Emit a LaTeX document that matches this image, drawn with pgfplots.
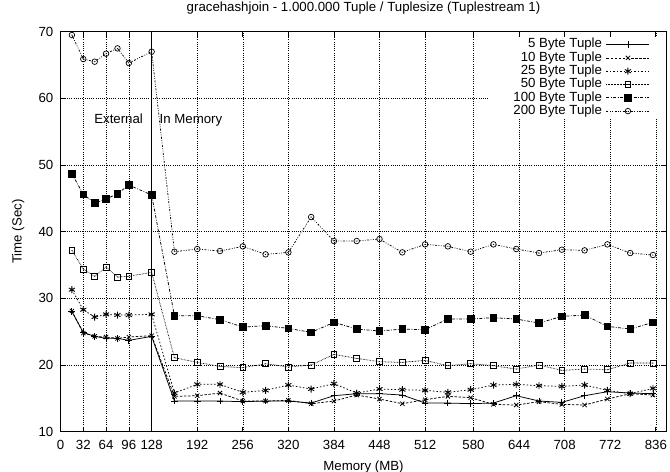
\documentclass[border=0pt]{standalone}
\usepackage{pgfplots}
\pgfplotsset{compat=1.18}
\usepackage{pgfplotstable}
\usepackage{fontspec}
\setmainfont{Liberation Sans}

\pgfdeclareplotmark{sqdot}{%
  \pgfpathrectangle{\pgfqpoint{-\pgfplotmarksize}{-\pgfplotmarksize}}{\pgfqpoint{2\pgfplotmarksize}{2\pgfplotmarksize}}%
  \pgfusepathqstroke
  \pgfpathcircle{\pgfpointorigin}{0.5pt}\pgfusepathqfill}
\pgfdeclareplotmark{ocdot}{%
  \pgfpathcircle{\pgfpointorigin}{\pgfplotmarksize}\pgfusepathqstroke
  \pgfpathcircle{\pgfpointorigin}{0.5pt}\pgfusepathqfill}

\pgfplotstableread{
x     b5    b10   b25   b50   b100  b200
16    28.0  28.1  31.3  37.2  48.7  69.5
32    24.9  24.8  28.3  34.4  45.6  65.9
48    24.3  24.3  27.2  33.3  44.3  65.5
64    24.0  24.2  27.6  34.7  44.9  66.7
80    24.0  24.0  27.5  33.2  45.7  67.5
96    23.7  24.2  27.5  33.3  47.0  65.3
128   24.3  24.4  27.6  33.9  45.5  67.0
160   14.6  15.3  15.8  21.1  27.4  37.0
192   14.6  15.4  17.1  20.4  27.4  37.4
224   14.6  15.8  17.1  19.8  26.8  37.1
256   14.5  14.6  15.9  19.6  25.7  37.8
288   14.6  14.6  16.2  20.2  25.9  36.6
320   14.6  14.7  17.0  19.7  25.5  36.9
352   14.3  14.2  16.4  20.0  24.9  42.2
384   15.4  14.6  17.2  21.6  26.4  38.6
416   15.7  15.5  15.8  21.0  25.4  38.6
448   15.7  14.9  16.4  20.5  25.1  38.9
480   15.5  14.2  16.3  20.4  25.4  36.9
512   14.3  14.8  16.2  20.7  25.3  38.1
544   14.3  15.3  15.9  19.9  26.9  37.8
576   14.2  15.1  16.3  20.2  26.9  37.0
608   14.3  14.1  17.0  19.9  27.1  38.1
640   15.4  14.0  17.1  19.4  26.9  37.4
672   14.6  14.5  16.9  20.0  26.3  36.8
704   14.4  14.1  16.8  19.2  27.3  37.3
736   15.4  14.0  17.0  19.4  27.5  37.2
768   16.0  14.9  16.2  19.3  25.8  38.1
800   15.8  15.7  15.7  20.3  25.4  36.8
832   15.7  15.5  16.5  20.3  26.4  36.5
}\datatable

\begin{document}
\begin{tikzpicture}
\begin{axis}[
  at={(0,0)}, anchor=south west,
  scale only axis, width=606bp, height=400bp,
  xmin=0, xmax=851, ymin=10, ymax=70,
  xtick={0,32,64,96,128,192,256,320,384,448,512,580,644,708,772,836},
  ytick={10,20,30,40,50,60,70},
  /pgf/number format/assume math mode=true,
  /pgf/number format/1000 sep={},
  font=\fontsize{13.3}{15}\selectfont,
  ticklabel style={font=\fontsize{13.3}{15}\selectfont},
  xticklabel style={anchor=base, yshift=-18bp},
  yticklabel style={anchor=east, inner sep=0pt, xshift=-7bp},
  grid=major,
  major grid style={black, line width=0.5bp, dash pattern=on 0.6bp off 1.6bp},
  tick align=inside, major tick length=5bp,
  every tick/.style={black, line width=0.7bp},
  axis line style={black, line width=0.8bp},
  title={gracehashjoin - 1.000.000 Tuple / Tuplesize (Tuplestream 1)},
  title style={at={(axis description cs:0.5,1.036)}, anchor=base, inner sep=0pt},
  xlabel={Memory (MB)},
  xlabel style={at={(axis description cs:0.5,-0.0962)}, anchor=base, inner sep=0pt},
  ylabel={Time (Sec)},
  ylabel style={at={(axis description cs:-0.064,0.5)}, anchor=base, inner sep=0pt},
  legend plot pos=right,
  legend cell align=right,
  legend image code/.code={%
    \draw[mark repeat=2,mark phase=2] plot coordinates {(0bp,0bp) (21.5bp,0bp) (43bp,0bp)};},
  legend style={at={(rel axis cs:1,1)}, anchor=north east, xshift=-16.5bp, yshift=-6.5bp,
    draw=none, fill=none, inner sep=0bp, row sep=0.9bp, column sep=4bp,
    font=\fontsize{13.3}{15}\selectfont,
    nodes={inner sep=0pt, text height=9.6bp, text depth=2.8bp}},
  every axis plot/.append style={line width=0.75bp, black},
]
\fill[white] (rel axis cs:0.7087,0.788) rectangle (rel axis cs:0.9985,0.986);
\addplot[black, forget plot, line width=0.7bp] coordinates {(128,10) (128,70)};
\addplot[solid, mark=+, mark size=3.4bp, mark options={solid, line width=0.8bp}] table[x=x,y=b5] {\datatable};
\addlegendentry{5 Byte Tuple}
\addplot[dash pattern=on 2.5bp off 1.6bp, mark=x, mark size=3bp, mark options={solid, line width=0.8bp}] table[x=x,y=b10] {\datatable};
\addlegendentry{10 Byte Tuple}
\addplot[dash pattern=on 1.5bp off 2bp, mark=asterisk, mark size=3.5bp, mark options={solid, line width=0.9bp}] table[x=x,y=b25] {\datatable};
\addlegendentry{25 Byte Tuple}
\addplot[dash pattern=on 0.6bp off 0.9bp, mark=sqdot, mark size=2.9bp, mark options={solid, line width=0.7bp}] table[x=x,y=b50] {\datatable};
\addlegendentry{50 Byte Tuple}
\addplot[dash pattern=on 3bp off 1.5bp on 0.8bp off 1.5bp, mark=square*, mark size=3.3bp, mark options={solid}] table[x=x,y=b100] {\datatable};
\addlegendentry{100 Byte Tuple}
\addplot[dash pattern=on 2bp off 1.5bp on 0.8bp off 1.5bp on 0.8bp off 1.5bp, mark=ocdot, mark size=2.8bp, mark options={solid, line width=0.7bp}] table[x=x,y=b200] {\datatable};
\addlegendentry{200 Byte Tuple}
\node[anchor=base east, inner sep=0pt] at (axis cs:116,56.3) {External};
\node[anchor=base west, inner sep=0pt] at (axis cs:139,56.3) {In Memory};
\end{axis}
\pgfresetboundingbox
\useasboundingbox (-60.5bp,-40bp) rectangle (609.5bp,431.7bp);
\end{tikzpicture}
\end{document}
